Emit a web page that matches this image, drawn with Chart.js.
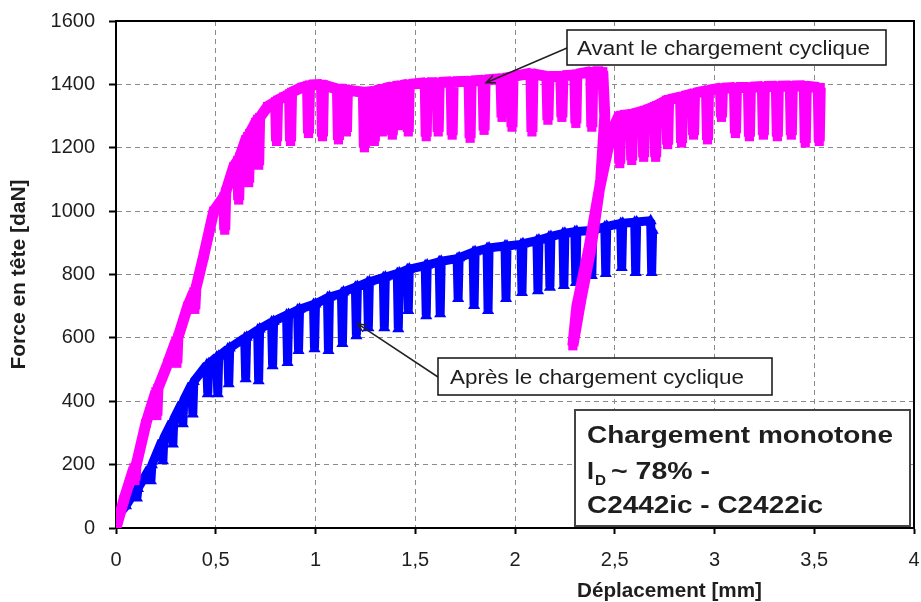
<!DOCTYPE html>
<html>
<head>
<meta charset="utf-8">
<script src="https://cdn.jsdelivr.net/npm/chart.js@4/dist/chart.umd.min.js"></script>
<style>
  html, body { margin: 0; padding: 0; background: #fff; }
  #wrap { width: 921px; height: 602px; }
</style>
</head>
<body>
<div id="wrap"><canvas id="chart" width="921" height="602"></canvas></div>
<script>
// "Avant le chargement cyclique" (magenta squares)
const avantX = [0, 0.04, 0.09, 0.095, 0.10, 0.15, 0.20, 0.205, 0.21, 0.26, 0.30, 0.305, 0.31, 0.36, 0.39, 0.395, 0.40,
  0.44, 0.49, 0.54, 0.545, 0.55, 0.59, 0.61, 0.615, 0.62, 0.65, 0.66, 0.665, 0.67, 0.70, 0.71, 0.715, 0.72,
  0.76, 0.80, 0.805, 0.81, 0.84, 0.87, 0.875, 0.88, 0.93, 0.96, 0.965, 0.97, 1.03, 1.035, 1.04,
  1.11, 1.115, 1.12, 1.15, 1.155, 1.16, 1.24, 1.245, 1.25, 1.29, 1.295, 1.30, 1.33, 1.335, 1.34,
  1.38, 1.385, 1.39, 1.42, 1.425, 1.43, 1.46, 1.465, 1.47, 1.55, 1.555, 1.56, 1.61, 1.615, 1.62,
  1.68, 1.685, 1.69, 1.77, 1.775, 1.78, 1.84, 1.845, 1.85, 1.93, 1.935, 1.94, 1.98, 1.985, 1.99,
  2.08, 2.085, 2.09, 2.16, 2.165, 2.17, 2.23, 2.235, 2.24, 2.30, 2.305, 2.31, 2.38, 2.385, 2.39, 2.44,
  2.45, 2.43, 2.38, 2.33, 2.29, 2.31, 2.37, 2.42, 2.46, 2.49,
  2.52, 2.525, 2.53, 2.58, 2.585, 2.59, 2.64, 2.645, 2.65, 2.70, 2.705, 2.71, 2.76, 2.765, 2.77,
  2.83, 2.835, 2.84, 2.89, 2.895, 2.90, 2.96, 2.965, 2.97, 3.03, 3.035, 3.04, 3.10, 3.105, 3.11,
  3.17, 3.175, 3.18, 3.24, 3.245, 3.25, 3.31, 3.315, 3.32, 3.38, 3.385, 3.39, 3.45, 3.455, 3.46,
  3.52, 3.525, 3.53];
const avantY = [0, 90, 190, 150, 195, 330, 430, 355, 440, 520, 590, 520, 600, 700, 745, 690, 755,
  860, 1000, 1045, 940, 1060, 1140, 1160, 1035, 1170, 1225, 1235, 1090, 1245, 1280, 1290, 1145, 1295,
  1330, 1345, 1220, 1350, 1360, 1370, 1220, 1375, 1390, 1395, 1245, 1398, 1400, 1235, 1398,
  1385, 1225, 1385, 1385, 1250, 1382, 1375, 1200, 1375, 1378, 1220, 1380, 1385, 1250, 1386,
  1392, 1240, 1393, 1395, 1270, 1397, 1400, 1250, 1400, 1405, 1235, 1405, 1405, 1250, 1406,
  1408, 1240, 1408, 1410, 1230, 1411, 1413, 1255, 1414, 1418, 1296, 1419, 1423, 1265, 1425,
  1435, 1250, 1433, 1425, 1287, 1425, 1425, 1296, 1427, 1430, 1277, 1432, 1440, 1265, 1440, 1440,
  1300, 1100, 880, 720, 575, 700, 880, 1060, 1180, 1260,
  1300, 1150, 1302, 1305, 1160, 1307, 1315, 1170, 1318, 1330, 1170, 1333, 1350, 1210, 1352,
  1360, 1215, 1362, 1370, 1240, 1372, 1380, 1225, 1382, 1388, 1296, 1388, 1390, 1245, 1390,
  1390, 1235, 1391, 1393, 1240, 1393, 1394, 1235, 1394, 1395, 1240, 1395, 1396, 1215, 1394,
  1390, 1220, 1390];

// "Après le chargement cyclique" (blue triangles)
const apresX = [0, 0.05, 0.10, 0.105, 0.11, 0.17, 0.175, 0.18, 0.23, 0.235, 0.24, 0.28, 0.285, 0.29,
  0.33, 0.335, 0.34, 0.38, 0.385, 0.39, 0.455, 0.46, 0.465, 0.505, 0.51, 0.515, 0.56, 0.565, 0.57,
  0.645, 0.65, 0.655, 0.71, 0.715, 0.72, 0.78, 0.785, 0.79, 0.855, 0.86, 0.865, 0.91, 0.915, 0.92,
  0.99, 0.995, 1.00, 1.06, 1.065, 1.07, 1.13, 1.135, 1.14, 1.20, 1.205, 1.21, 1.26, 1.265, 1.27,
  1.34, 1.345, 1.35, 1.41, 1.415, 1.42, 1.46, 1.465, 1.47, 1.55, 1.555, 1.56, 1.62, 1.625, 1.63,
  1.71, 1.715, 1.72, 1.79, 1.795, 1.80, 1.86, 1.865, 1.87, 1.95, 1.955, 1.96, 2.03, 2.035, 2.04,
  2.11, 2.115, 2.12, 2.17, 2.175, 2.18, 2.24, 2.245, 2.25, 2.30, 2.305, 2.31, 2.38, 2.385, 2.39,
  2.45, 2.455, 2.46, 2.53, 2.535, 2.54, 2.60, 2.605, 2.61, 2.68, 2.685, 2.69];
const apresY = [30, 70, 120, 95, 125, 190, 149, 200, 275, 212, 285, 335, 265, 345,
  395, 329, 405, 455, 360, 462, 515, 424, 518, 540, 424, 542, 565, 455, 568,
  600, 471, 602, 625, 465, 628, 650, 512, 652, 672, 522, 674, 688, 560, 690,
  705, 566, 707, 727, 560, 729, 740, 582, 745, 760, 607, 762, 775, 632, 777,
  790, 632, 792, 803, 629, 805, 815, 686, 817, 828, 670, 830, 840, 676, 842,
  850, 724, 853, 870, 702, 872, 882, 686, 884, 890, 724, 890, 895, 743, 897,
  907, 749, 909, 918, 760, 920, 929, 765, 930, 935, 775, 936, 939, 797, 940,
  950, 803, 952, 961, 822, 962, 965, 806, 966, 970, 806, 940];

const yTicks = [0, 200, 400, 600, 800, 1000, 1200, 1400, 1600];
const xTicks = ["0", "0,5", "1", "1,5", "2", "2,5", "3", "3,5", "4"];

const FONT = "'Liberation Sans', Arial, sans-serif";
const INK = "#1e1e1e";

function points(xs, ys) {
  return xs.map(function (v, i) { return { x: v, y: ys[i] }; });
}

// draw text squeezed/stretched to a given width (the source picture is stretched a bit)
function fitText(ctx, text, x, y, w) {
  let m = ctx.measureText(text).width;
  ctx.save();
  ctx.translate(x, y);
  ctx.scale(w / m, 1);
  ctx.fillText(text, 0, 0);
  ctx.restore();
}

function arrow(ctx, x1, y1, x2, y2) {
  ctx.beginPath();
  ctx.moveTo(x1, y1);
  ctx.lineTo(x2, y2);
  let a = Math.atan2(y2 - y1, x2 - x1);
  let L = 10;
  ctx.moveTo(x2 - L * Math.cos(a - 0.4), y2 - L * Math.sin(a - 0.4));
  ctx.lineTo(x2, y2);
  ctx.lineTo(x2 - L * Math.cos(a + 0.4), y2 - L * Math.sin(a + 0.4));
  ctx.stroke();
}

// keep the plot area where the picture has it: no extra room for edge labels
function noEdgePadding(s) {
  s.paddingLeft = 0;
  s.paddingRight = 0;
  s.paddingTop = 0;
  s.paddingBottom = 0;
}

const notes = {
  id: "notes",
  afterDraw(chart) {
    const ctx = chart.ctx;
    const a = chart.chartArea;
    const sx = chart.scales.x, sy = chart.scales.y;
    ctx.save();

    // frame top / right
    ctx.strokeStyle = "#000";
    ctx.lineWidth = 2;
    ctx.beginPath();
    ctx.moveTo(a.left, a.top);
    ctx.lineTo(a.right, a.top);
    ctx.lineTo(a.right, a.bottom);
    ctx.stroke();

    // arrows
    ctx.lineWidth = 1.5;
    ctx.strokeStyle = "#222";
    arrow(ctx, 567, 48, sx.getPixelForValue(1.855), sy.getPixelForValue(1405));
    arrow(ctx, 438, 377, sx.getPixelForValue(1.21), sy.getPixelForValue(645));

    // callout boxes
    ctx.fillStyle = "#fff";
    ctx.strokeStyle = "#111";
    ctx.lineWidth = 1.5;
    ctx.fillRect(567, 30, 319, 35);
    ctx.strokeRect(567, 30, 319, 35);
    ctx.fillRect(438, 358, 334, 37);
    ctx.strokeRect(438, 358, 334, 37);

    ctx.fillStyle = INK;
    ctx.textBaseline = "alphabetic";
    ctx.font = "20px " + FONT;
    fitText(ctx, "Avant le chargement cyclique", 577, 55, 293);
    fitText(ctx, "Après le chargement cyclique", 450, 384, 294);

    // info box
    ctx.fillStyle = "#fff";
    ctx.strokeStyle = "#444";
    ctx.lineWidth = 2;
    ctx.fillRect(575, 410, 335, 116);
    ctx.strokeRect(575, 410, 335, 116);
    ctx.fillStyle = INK;
    ctx.font = "bold 24px " + FONT;
    fitText(ctx, "Chargement monotone", 587, 443, 306);
    fitText(ctx, "I", 587, 479, 7);
    ctx.font = "bold 15px " + FONT;
    fitText(ctx, "D", 595, 485, 11);
    ctx.font = "bold 24px " + FONT;
    fitText(ctx, "~ 78% -", 611, 479, 99);
    fitText(ctx, "C2442ic - C2422ic", 587, 513, 236);

    // x axis title
    ctx.font = "bold 21px " + FONT;
    fitText(ctx, "Déplacement [mm]", 577, 597, 185);

    ctx.restore();
  }
};

new Chart(document.getElementById("chart"), {
  type: "scatter",
  data: {
    datasets: [
      {
        label: "Avant le chargement cyclique",
        data: points(avantX, avantY),
        showLine: true,
        borderColor: "#ff00ff",
        backgroundColor: "#ff00ff",
        borderWidth: 11,
        borderJoinStyle: "bevel",
        pointStyle: "rect",
        pointRadius: 6.5,
        pointBorderWidth: 0
      },
      {
        label: "Après le chargement cyclique",
        data: points(apresX, apresY),
        showLine: true,
        borderColor: "#0000ff",
        backgroundColor: "#0000ff",
        borderWidth: 9,
        borderJoinStyle: "bevel",
        pointStyle: "triangle",
        pointRadius: 7,
        pointBorderWidth: 0
      }
    ]
  },
  options: {
    responsive: false,
    animation: false,
    layout: { padding: { top: 21, right: 7, left: 0, bottom: 0 } },
    plugins: { legend: { display: false }, tooltip: { enabled: false } },
    scales: {
      x: {
        type: "linear",
        min: 0,
        max: 4,
        afterFit: function (s) { s.height = 74; noEdgePadding(s); },
        afterBuildTicks: function (s) {
          s.ticks = xTicks.map(function (t, i) { return { value: i * 0.5 }; });
        },
        ticks: {
          padding: 14,
          color: INK,
          font: { family: FONT, size: 20 },
          maxRotation: 0,
          callback: function (v, i) { return xTicks[i]; }
        },
        grid: {
          color: "#8a8a8a",
          tickColor: "#000",
          tickLength: 6,
          tickWidth: 2,
          tickBorderDash: []
        },
        border: { display: true, color: "#000", width: 2, dash: [5, 4] }
      },
      y: {
        min: 0,
        max: 1600,
        afterFit: function (s) { s.width = 116; noEdgePadding(s); },
        afterBuildTicks: function (s) {
          s.ticks = yTicks.map(function (t) { return { value: t }; });
        },
        ticks: {
          padding: 14,
          color: INK,
          font: { family: FONT, size: 20 },
          callback: function (v) { return String(v); }
        },
        grid: {
          color: "#8a8a8a",
          tickColor: "#000",
          tickLength: 7,
          tickWidth: 2,
          tickBorderDash: []
        },
        border: { display: true, color: "#000", width: 2, dash: [5, 4] },
        title: {
          display: true,
          text: "Force en tête [daN]",
          color: INK,
          font: { family: FONT, size: 21, weight: "bold" },
          padding: { top: 7, bottom: 0 }
        }
      }
    }
  },
  plugins: [notes]
});
</script>
</body>
</html>
